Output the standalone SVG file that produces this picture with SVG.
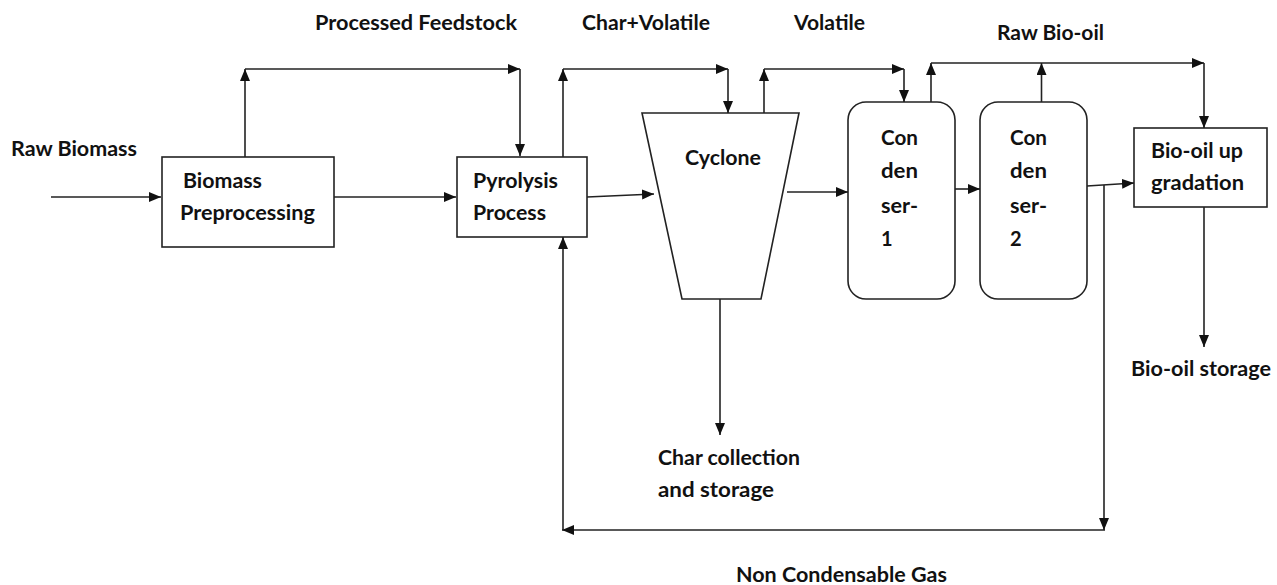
<svg xmlns="http://www.w3.org/2000/svg" width="1277" height="585" viewBox="0 0 1277 585">
<defs>
<marker id="ah" viewBox="0 0 12 10" refX="12" refY="5" markerWidth="12" markerHeight="10" markerUnits="userSpaceOnUse" orient="auto">
<path d="M0,0 L12,5 L0,10 Z" fill="#111"/>
</marker>
</defs>
<style>
.box{fill:#fff;stroke:#222;stroke-width:1.6}
.ln{fill:none;stroke:#222;stroke-width:1.6;marker-end:url(#ah)}
.pl{fill:none;stroke:#222;stroke-width:1.6}
text{font-family:Lato,"Open Sans","Liberation Sans",sans-serif;font-weight:bold;font-size:20px;fill:#111}
</style>
<rect width="1277" height="585" fill="#fff"/>
<g id="labels">
<text x="11" y="156" textLength="126" lengthAdjust="spacingAndGlyphs">Raw Biomass</text>
<text x="315" y="30" textLength="202" lengthAdjust="spacingAndGlyphs">Processed Feedstock</text>
<text x="582" y="30" textLength="128" lengthAdjust="spacingAndGlyphs">Char+Volatile</text>
<text x="794" y="30" textLength="71" lengthAdjust="spacingAndGlyphs">Volatile</text>
<text x="997" y="40" textLength="107" lengthAdjust="spacingAndGlyphs">Raw Bio-oil</text>
<text x="1131" y="376" textLength="140" lengthAdjust="spacingAndGlyphs">Bio-oil storage</text>
<text x="658" y="465" textLength="142" lengthAdjust="spacingAndGlyphs">Char collection</text>
<text x="658" y="497" textLength="116" lengthAdjust="spacingAndGlyphs">and storage</text>
<text x="736" y="582" textLength="211" lengthAdjust="spacingAndGlyphs">Non Condensable Gas</text>
</g>
<g id="biomass-preprocessing">
<rect class="box" x="162" y="157" width="172" height="90"/>
<text x="183" y="188" textLength="79" lengthAdjust="spacingAndGlyphs">Biomass</text>
<text x="180" y="220" textLength="135" lengthAdjust="spacingAndGlyphs">Preprocessing</text>
</g>
<g id="pyrolysis-process">
<rect class="box" x="457" y="157" width="130" height="80"/>
<text x="473" y="188" textLength="85" lengthAdjust="spacingAndGlyphs">Pyrolysis</text>
<text x="473" y="220" textLength="73" lengthAdjust="spacingAndGlyphs">Process</text>
</g>
<g id="cyclone">
<polygon class="box" points="642,113 799,113 761,299 682,299"/>
<text x="685" y="165" textLength="76" lengthAdjust="spacingAndGlyphs">Cyclone</text>
</g>
<g id="condenser-1">
<rect class="box" x="848" y="102" width="107" height="197" rx="18" ry="18"/>
<text x="881" y="145" textLength="37" lengthAdjust="spacingAndGlyphs">Con</text>
<text x="881" y="178" textLength="37" lengthAdjust="spacingAndGlyphs">den</text>
<text x="881" y="213" textLength="37" lengthAdjust="spacingAndGlyphs">ser-</text>
<text x="881" y="246">1</text>
</g>
<g id="condenser-2">
<rect class="box" x="980" y="102" width="107" height="197" rx="18" ry="18"/>
<text x="1010" y="145" textLength="37" lengthAdjust="spacingAndGlyphs">Con</text>
<text x="1010" y="178" textLength="37" lengthAdjust="spacingAndGlyphs">den</text>
<text x="1010" y="213" textLength="37" lengthAdjust="spacingAndGlyphs">ser-</text>
<text x="1010" y="246">2</text>
</g>
<g id="bio-oil-upgradation">
<rect class="box" x="1134" y="128" width="133" height="79"/>
<text x="1151" y="158" textLength="92" lengthAdjust="spacingAndGlyphs">Bio-oil up</text>
<text x="1151" y="190" textLength="93" lengthAdjust="spacingAndGlyphs">gradation</text>
</g>
<g id="connectors">
<path class="ln" d="M51,197 H161"/>
<path class="ln" d="M334,197 H456"/>
<path class="ln" d="M245,157 V69"/>
<path class="ln" d="M245,69 H520"/>
<path class="ln" d="M520,69 V156"/>
<path class="ln" d="M563,157 V69"/>
<path class="ln" d="M563,69 H728"/>
<path class="ln" d="M728,69 V113"/>
<path class="ln" d="M587,197 L654,194"/>
<path class="ln" d="M764,113 V69"/>
<path class="ln" d="M764,69 H904"/>
<path class="ln" d="M904,69 V102"/>
<path class="ln" d="M787,192 H848"/>
<path class="ln" d="M931,102 V63"/>
<path class="ln" d="M931,63 H1204"/>
<path class="ln" d="M1204,63 V128"/>
<path class="ln" d="M1041.5,102 V63"/>
<path class="ln" d="M955,189 H980"/>
<path class="ln" d="M1087,186 L1134,183"/>
<path class="ln" d="M1104,185 V530"/>
<path class="ln" d="M1105,530 H562"/>
<path class="ln" d="M563,530 V237"/>
<path class="ln" d="M720,299 V435"/>
<path class="ln" d="M1204,207 V347"/>
</g>
</svg>
